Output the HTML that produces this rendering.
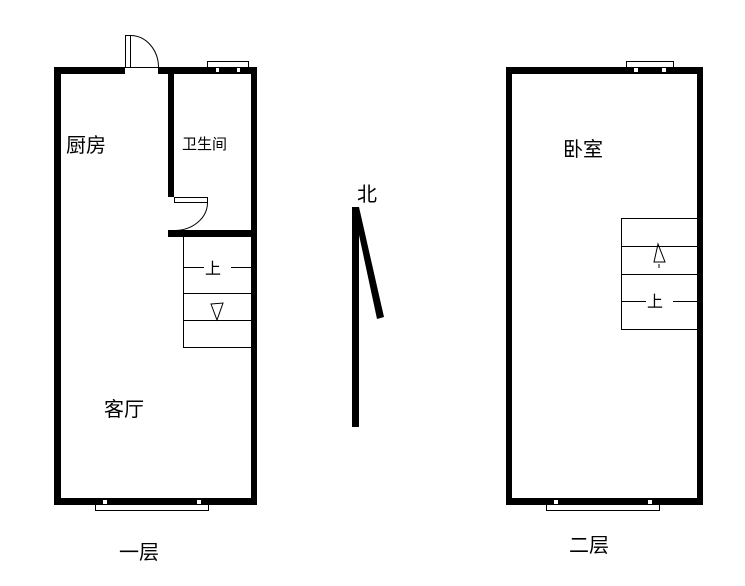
<!DOCTYPE html>
<html><head><meta charset="utf-8"><style>
body{margin:0;background:#fff;}
svg text{font-family:"Liberation Sans","Noto Sans CJK SC",sans-serif;fill:#000;}
</style></head><body>
<svg width="745" height="581" viewBox="0 0 745 581" xmlns="http://www.w3.org/2000/svg">
<g fill="#000">
<rect x="54" y="67" width="71" height="7"/>
<rect x="158" y="67" width="99" height="7"/>
<rect x="54" y="67" width="7" height="438"/>
<rect x="251" y="67" width="6" height="438"/>
<rect x="54" y="498" width="203" height="7"/>
<rect x="168" y="67" width="6" height="130"/>
<rect x="168" y="230" width="89" height="7"/>
<rect x="506" y="67" width="197" height="7"/>
<rect x="506" y="67" width="6" height="438"/>
<rect x="697" y="67" width="6" height="438"/>
<rect x="506" y="498" width="197" height="7"/>
<rect x="352" y="207" width="7" height="220"/>
<polygon points="353,207 359,207 384,317 377,319"/>
</g>
<g fill="#fff" stroke="#000" stroke-width="1">
<rect x="125.5" y="35.5" width="5" height="32"/>
<path d="M130.5,35.5 A28,32 0 0 1 158.5,67.5" fill="none"/>
<line x1="130" y1="67.5" x2="158" y2="67.5"/>
<rect x="174.5" y="197.5" width="33" height="5"/>
<path d="M207.5,202.5 A33,28 0 0 1 174.5,230.5" fill="none"/>
<rect x="207.5" y="61.5" width="41" height="6"/>
<rect x="215.5" y="67.5" width="4" height="5"/>
<rect x="236.5" y="67.5" width="4" height="5"/>
<line x1="220" y1="69.5" x2="236" y2="69.5"/>
<rect x="626.5" y="61.5" width="47" height="6"/>
<rect x="633.5" y="67.5" width="5" height="5"/>
<rect x="661.5" y="67.5" width="5" height="5"/>
<line x1="639" y1="69.5" x2="661" y2="69.5"/>
<rect x="95.5" y="504.5" width="113" height="6"/>
<rect x="102.5" y="499.5" width="5" height="5"/>
<rect x="196.5" y="499.5" width="5" height="5"/>
<line x1="108" y1="501.5" x2="196" y2="501.5"/>
<rect x="546.5" y="504.5" width="113" height="6"/>
<rect x="553.5" y="499.5" width="5" height="5"/>
<rect x="647.5" y="499.5" width="5" height="5"/>
<line x1="559" y1="501.5" x2="647" y2="501.5"/>
</g>
<g stroke="#000" stroke-width="1" fill="none">
<line x1="183.5" y1="237" x2="183.5" y2="347"/>
<line x1="183" y1="267.5" x2="204" y2="267.5"/>
<line x1="231" y1="267.5" x2="251" y2="267.5"/>
<line x1="183" y1="293.5" x2="251" y2="293.5"/>
<line x1="183" y1="320.5" x2="251" y2="320.5"/>
<line x1="183" y1="347.5" x2="251" y2="347.5"/>
<path d="M211,304 L223,303 L217,320 Z"/>
<line x1="621.5" y1="218" x2="621.5" y2="329"/>
<line x1="621" y1="218.5" x2="697" y2="218.5"/>
<line x1="621" y1="246.5" x2="697" y2="246.5"/>
<line x1="621" y1="274.5" x2="697" y2="274.5"/>
<line x1="621" y1="301.5" x2="646" y2="301.5"/>
<line x1="673" y1="301.5" x2="697" y2="301.5"/>
<line x1="621" y1="329.5" x2="697" y2="329.5"/>
<path d="M658,244 L654,262 L665,262 Z"/>
<line x1="659" y1="264" x2="659" y2="268"/>
</g>
<g font-size="20">
<text x="66" y="152">厨房</text>
<text x="104" y="416">客厅</text>
<text x="563" y="156">卧室</text>
<text x="119" y="559">一层</text>
<text x="569" y="552">二层</text>
<text x="357" y="201">北</text>
</g>
<text x="182" y="149" font-size="15">卫生间</text>
<text x="205" y="274" font-size="16">上</text>
<text x="647" y="307" font-size="16">上</text>
</svg>
</body></html>
